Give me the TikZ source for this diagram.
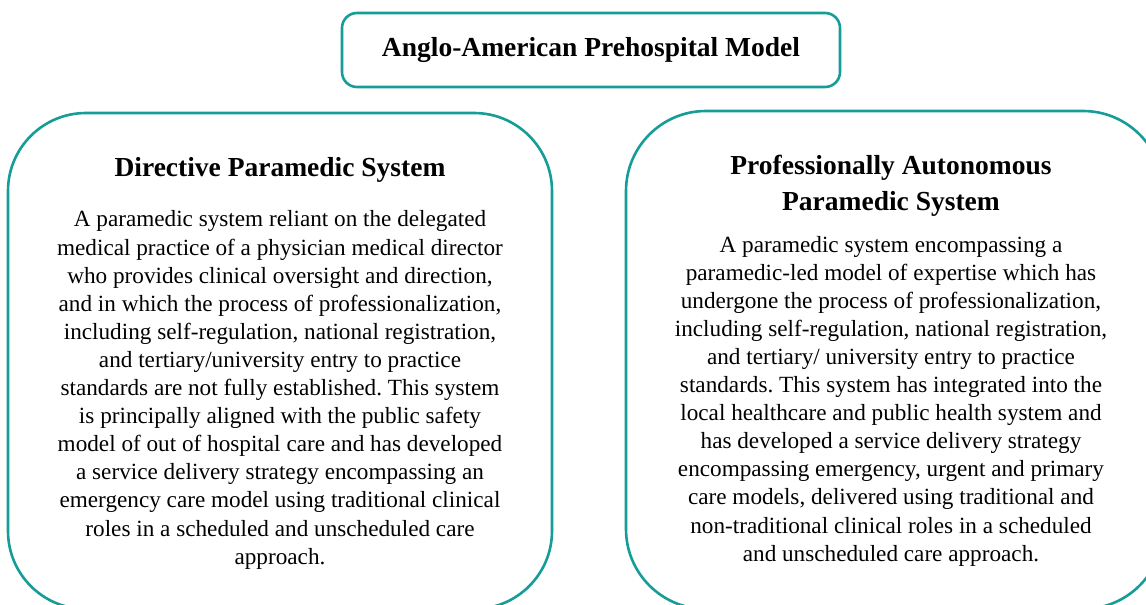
\documentclass[tikz,border=0pt]{standalone}
\usepackage{fontspec}
\setmainfont{Liberation Serif}
\frenchspacing
\definecolor{frameteal}{RGB}{23,157,152}
\tikzset{
  frame/.style={draw=frameteal, line width=2.6pt, fill=white},
  heading/.style={font=\fontsize{27.5}{36}\selectfont\bfseries, align=center, inner sep=0pt},
  bodytext/.style={font=\fontsize{23.2}{28.1}\selectfont, align=center, inner sep=0pt},
}
\begin{document}
\begin{tikzpicture}[x=1pt, y=-1pt]
  \useasboundingbox (0,0) rectangle (1146,605);
  \clip (0,0) rectangle (1146,605);
  \fill[white] (0,0) rectangle (1146,605);

  % outline boxes
  \draw[frame, rounded corners=15pt] (342,13) rectangle (840,87);
  \draw[frame, rounded corners=78pt] (8,113) rectangle (552,609);
  \draw[frame, rounded corners=80pt] (626,111) rectangle (1163,609);

  % top heading
  \node[heading] (model) at (591,50) {Anglo-American Prehospital Model};

  % left column
  \node[heading] (dirtitle) at (280,170) {Directive Paramedic System};
  \node[bodytext] (dirtext) at (280,390) {A paramedic system reliant on the delegated\\
    medical practice of a physician medical director\\
    who provides clinical oversight and direction,\\
    and in which the process of professionalization,\\
    including self-regulation, national registration,\\
    and tertiary/university entry to practice\\
    standards are not fully established. This system\\
    is principally aligned with the public safety\\
    model of out of hospital care and has developed\\
    a service delivery strategy encompassing an\\
    emergency care model using traditional clinical\\
    roles in a scheduled and unscheduled care\\
    approach.};

  % right column
  \node[heading] (auttitle) at (891,186) {Professionally Autonomous\\Paramedic System};
  \node[bodytext] (auttext) at (891,401) {A paramedic system encompassing a\\
    paramedic-led model of expertise which has\\
    undergone the process of professionalization,\\
    including self-regulation, national registration,\\
    and tertiary/ university entry to practice\\
    standards. This system has integrated into the\\
    local healthcare and public health system and\\
    has developed a service delivery strategy\\
    encompassing emergency, urgent and primary\\
    care models, delivered using traditional and\\
    non-traditional clinical roles in a scheduled\\
    and unscheduled care approach.};
\end{tikzpicture}
\end{document}
